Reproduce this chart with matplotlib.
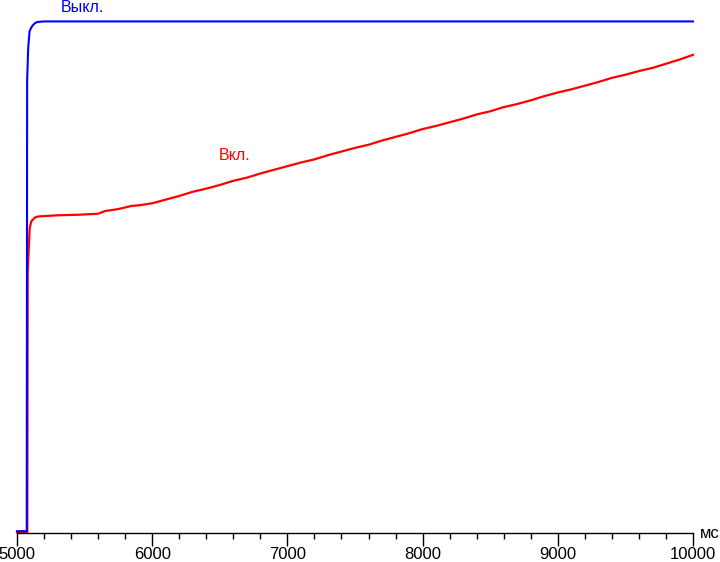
import matplotlib
matplotlib.use('Agg')
import matplotlib.pyplot as plt
from matplotlib.ticker import MultipleLocator

plt.rcParams['font.family'] = ['Liberation Sans', 'DejaVu Sans']

# time in ms, brightness in % of scale
off_t = [5000, 5072, 5075, 5083, 5093, 5103, 5115, 5130, 5150, 5200, 10000]
off_v = [0.35, 0.35, 86.6, 92.9, 96.0, 96.6, 97.1, 97.5, 97.8, 97.9, 97.9]

on_t = [5000, 5076, 5079, 5087, 5094, 5104, 5111, 5126, 5141, 5170, 5300, 5450,
        5600, 5650, 5700, 5750, 5800, 5850, 5900, 5950, 6000, 6100, 6200, 6300,
        6400, 6500, 6600, 6700, 6800, 6900, 7000, 7100, 7200, 7300, 7400, 7500,
        7600, 7700, 7800, 7900, 8000, 8100, 8200, 8300, 8400, 8500, 8600, 8700,
        8800, 8900, 9000, 9100, 9200, 9300, 9400, 9500, 9600, 9700, 9800, 9900,
        10000]
on_v = [0.15, 0.15, 49.7, 54.5, 58.3, 59.5, 59.8, 60.2, 60.5, 60.6, 60.8, 60.9,
        61.1, 61.6, 61.8, 62.0, 62.3, 62.6, 62.7, 62.9, 63.1, 63.8, 64.5, 65.3,
        65.9, 66.6, 67.4, 68.0, 68.8, 69.5, 70.2, 70.9, 71.5, 72.3, 73.0, 73.7,
        74.3, 75.1, 75.8, 76.5, 77.3, 77.9, 78.6, 79.3, 80.1, 80.7, 81.5, 82.1,
        82.8, 83.6, 84.3, 84.9, 85.6, 86.3, 87.1, 87.7, 88.4, 89.0, 89.8, 90.6,
        91.5]

fig = plt.figure(figsize=(7.2, 5.62), dpi=100)
ax = fig.add_axes([17 / 720, 29 / 562, 676 / 720, 533 / 562])

ax.plot(on_t, on_v, color='#ff0000', lw=1.6, clip_on=False)
ax.plot(off_t, off_v, color='#0000ff', lw=1.5, clip_on=False)

ax.text(5481, 100.6, 'Выкл.', color='#0000ff', fontsize=11.5, ha='center', va='center')
ax.text(6612, 72.3, 'Вкл.', color='#ff0000', fontsize=11.5, ha='center', va='center')

ax.set_xlim(5000, 10000)
ax.set_ylim(0, 102)
for s in ['left', 'right', 'top']:
    ax.spines[s].set_visible(False)
ax.spines['bottom'].set_linewidth(1.0)
ax.set_yticks([])
ax.xaxis.set_major_locator(MultipleLocator(1000))
ax.xaxis.set_minor_locator(MultipleLocator(200))
ax.tick_params(axis='x', which='major', length=9, width=1, labelsize=12, pad=1)
ax.tick_params(axis='x', which='minor', length=4.5, width=1)

fig.text(700 / 720, 1 - 538 / 562, 'мс', fontsize=12, ha='left', va='baseline')

fig.savefig('out.png', dpi=100)
